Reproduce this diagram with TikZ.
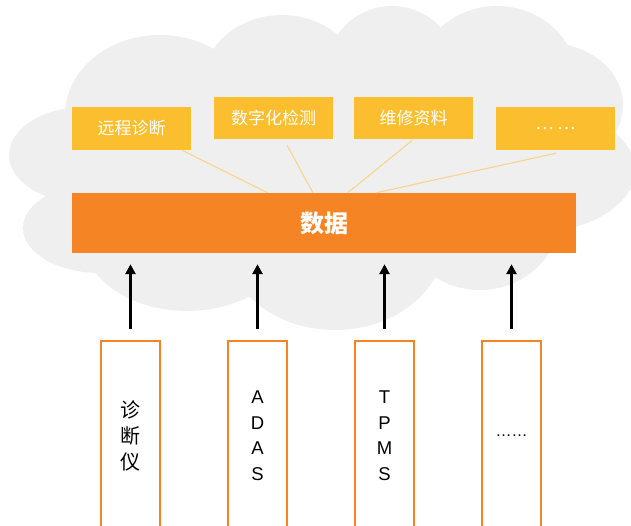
\documentclass[tikz,border=0pt]{standalone}
\usepackage{fontspec}
\setmainfont{Liberation Sans}
\newfontfamily\cjk{Noto Sans CJK SC}
\usetikzlibrary{arrows.meta,calc}
\definecolor{cloudgray}{HTML}{EFEFEF}
\definecolor{barorange}{HTML}{F58424}
\definecolor{boxyellow}{HTML}{FBBE2E}
\definecolor{linkyellow}{HTML}{F8D58C}
\tikzset{
  topbox/.style={fill=boxyellow, draw=none, minimum width=119pt, minimum height=43pt, inner sep=0pt, text=white, font=\cjk\fontsize{17}{20}\selectfont},
  databar/.style={fill=barorange, draw=none, minimum width=504pt, minimum height=60pt, inner sep=0pt, text=white, font=\cjk\bfseries\fontsize{24}{28}\selectfont},
  srcbox/.style={draw=barorange, line width=2pt, fill=white, minimum width=59pt, minimum height=190pt, inner sep=0pt, align=center},
  cnvert/.style={font=\cjk\fontsize{20}{26}\selectfont},
  lavert/.style={font=\fontsize{18.5}{25.5}\selectfont},
  link/.style={draw=linkyellow, line width=1.1pt},
  feed/.style={draw=black, line width=3pt, -{Triangle[width=10pt,length=10pt]}, shorten <=11pt, shorten >=11pt},
}
\begin{document}
\begin{tikzpicture}[x=1pt,y=-1pt]
\useasboundingbox (0,0) rectangle (631,526);
% cloud
\begin{scope}[fill=cloudgray]
\fill (160,115) ellipse [x radius=95, y radius=80];
\fill (282,85) ellipse [x radius=80, y radius=70];
\fill (392,70) ellipse [x radius=65, y radius=64];
\fill (497,80) ellipse [x radius=80, y radius=74];
\fill (548,105) ellipse [x radius=75, y radius=62];
\fill (535,170) ellipse [x radius=100, y radius=62];
\fill (480,215) ellipse [x radius=80, y radius=75];
\fill (335,240) ellipse [x radius=110, y radius=90];
\fill (187,236) ellipse [x radius=105, y radius=75];
\fill (100,228) ellipse [x radius=77, y radius=45];
\fill (85,155) ellipse [x radius=76, y radius=48];
\fill (66,115) -- (213,55) -- (336,40) -- (443,35) -- (565,55) -- (610,120) -- (570,230) -- (547,250) -- (423,275) -- (250,295) -- (95,265) -- (45,195) -- cycle;
\end{scope}
% data bar and top boxes
\node[databar] (data) at (324,223) {数据};
\node[topbox] (t1) at (131.5,128.5) {远程诊断};
\node[topbox, minimum height=42pt] (t2) at (273.5,118) {数字化检测};
\node[topbox, minimum height=42pt] (t3) at (413.5,118) {维修资料};
\node[topbox] (t4) at (555.5,128.5) {… …};
\draw[link] ($(t1.south)+(50.5,0)$) -- ($(data.north)+(-56.4,0)$);
\draw[link] ($(t2.south)+(13.5,6)$) -- ($(data.north)+(-11,0)$);
\draw[link] ($(t3.south)+(-1,1)$) -- ($(data.north)+(23.7,0)$);
\draw[link] ($(t4.south)+(0.5,3)$) -- ($(data.north)+(52,0)$);
% source boxes
\node[srcbox, cnvert] (s1) at (130.5,435.5) {诊\\ 断\\ 仪};
\node[srcbox, lavert] (s2) at (257.5,435.5) {A\\ D\\ A\\ S};
\node[srcbox, lavert] (s3) at (384.5,435.5) {T\\ P\\ M\\ S};
\node[srcbox, font=\fontsize{16}{20}\selectfont] (s4) at (511.5,435.5) {……};
\draw[feed] (s1.north) -- (s1.north |- data.south);
\draw[feed] (s2.north) -- (s2.north |- data.south);
\draw[feed] (s3.north) -- (s3.north |- data.south);
\draw[feed] (s4.north) -- (s4.north |- data.south);
\end{tikzpicture}
\end{document}
